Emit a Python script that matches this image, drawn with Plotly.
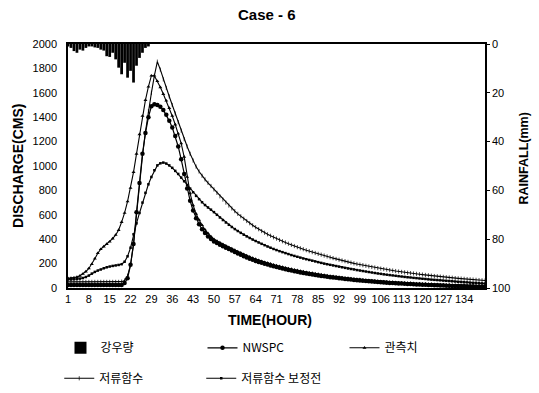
import plotly.graph_objects as go

hours = list(range(1, 142))
x_ticks = list(range(1, 135, 7))

rain_hours = list(range(1, 29))
rain_mm = [1, 1.6, 2.9, 3.6, 2.3, 2.7, 1.6, 1, 1, 1.4, 1.6, 2.3, 2.7, 5, 5.3, 3.6,
           6.3, 9.7, 12.4, 7.7, 13.8, 11, 15.8, 8.9, 5.7, 3.6, 1.6, 1]

nwspc = [25]*19 + [
    40, 80, 190, 360, 620, 860, 1100, 1270, 1400, 1490,
    1506, 1500, 1485, 1460, 1420, 1370, 1315, 1245, 1160, 1055,
    935, 815, 715, 635, 572, 522, 482, 450, 423, 401,
    382, 368, 355, 342, 330, 319, 307, 295, 283, 272,
    261, 250, 240, 231, 222, 214, 206, 199, 192, 185,
    178, 172, 166, 160, 154, 148, 143, 138, 133, 128,
    123, 119, 115, 111, 107, 103, 99, 96, 92, 89,
    86, 83, 80, 77, 74, 71, 69, 66, 64, 62,
    59, 57, 55, 53, 51, 49, 47, 45, 44, 42,
    40, 39, 37, 36, 34, 33, 32, 30, 29, 28,
    27, 26, 25, 24, 23, 22, 21, 20, 19, 18,
    17, 16, 16, 15, 14, 13, 13, 12, 11, 11,
    10, 10]

observed = [
    80, 82, 85, 90, 100, 115, 135, 160, 195, 240,
    285, 318, 340, 360, 380, 405, 435, 475, 540, 615,
    710, 820, 950, 1100, 1260, 1410, 1540, 1650, 1740, 1740,
    1695, 1645, 1590, 1535, 1475, 1410, 1340, 1265, 1185, 1075,
    910, 775, 678, 608, 558, 515, 478, 448, 422,
    400, 386, 372, 359, 347, 335, 323, 311, 299, 288,
    277, 266, 256, 246, 237, 228, 220, 212, 205, 198,
    191, 184, 178, 172, 166, 160, 155, 150, 145, 140,
    135, 130, 126, 122, 118, 114, 110, 106, 103, 99,
    96, 93, 90, 87, 84, 81, 78, 76, 73, 71,
    68, 66, 64, 62, 60, 58, 56, 54, 52, 50,
    49, 47, 46, 44, 43, 41, 40, 39, 37, 36,
    35, 34, 33, 32, 31, 30, 29, 28, 27, 26,
    25, 24, 24, 23, 22, 21, 21, 20, 19, 19,
    18, 18]

storage = [50]*18 + [
    52, 62, 100, 190, 360, 600, 850, 1080, 1280, 1450,
    1600, 1740, 1855, 1790, 1710, 1640, 1570, 1500, 1430, 1360,
    1290, 1220, 1160, 1100, 1045, 995, 955, 920, 890, 862, 836,
    808, 780, 752, 725, 700, 676, 652, 630, 608, 588,
    568, 549, 531, 514, 498, 482, 467, 453, 440, 428,
    416, 405, 394, 383, 373, 363, 353, 344, 335, 326,
    318, 310, 302, 294, 287, 280, 273, 266, 259, 252,
    245, 238, 232, 226, 220, 214, 208, 202, 197, 192,
    187, 182, 177, 172, 168, 163, 159, 155, 151, 147,
    143, 139, 135, 132, 128, 125, 122, 119, 116, 113,
    110, 107, 104, 101, 98, 96, 93, 91, 88, 86,
    84, 81, 79, 77, 75, 73, 71, 69, 67, 65,
    63, 61]

storage_raw = [
    70, 70, 72, 74, 77, 82, 90, 102, 118, 132,
    143, 152, 162, 170, 176, 181, 185, 189, 195, 215,
    260, 330, 440, 530, 615, 700, 780, 850, 910, 965,
    1005, 1022, 1028, 1020, 1005, 985, 960, 935, 905, 875,
    845, 815, 785, 755, 728, 703, 680, 660, 642,
    622, 600, 578, 557, 537, 518, 500, 483, 467, 452,
    437, 423, 410, 397, 385, 373, 362, 351, 340, 330,
    320, 311, 302, 294, 286, 278, 270, 263, 256, 249,
    242, 236, 230, 224, 218, 212, 206, 200, 195, 190,
    185, 180, 175, 170, 165, 160, 156, 152, 147, 143,
    139, 135, 131, 127, 123, 119, 116, 112, 109, 106,
    103, 100, 97, 94, 91, 88, 86, 83, 81, 78,
    76, 74, 71, 69, 67, 65, 63, 61, 59, 57,
    55, 53, 51, 49, 47, 46, 44, 42, 41, 39,
    38, 36]

for s in (nwspc, observed, storage, storage_raw):
    assert len(s) == len(hours), len(s)

FONT = "Arial, 'Liberation Sans', 'Noto Sans CJK KR', sans-serif"
KFONT = "'Noto Sans CJK KR', Arial, sans-serif"

fig = go.Figure()
fig.add_trace(go.Bar(x=rain_hours, y=rain_mm, yaxis="y2", name="강우량",
                     marker=dict(color="black", line=dict(width=0)), legend="legend"))
fig.add_trace(go.Scatter(x=hours, y=nwspc, name="NWSPC", mode="lines+markers",
                         line=dict(color="black", width=1.2),
                         marker=dict(symbol="circle", size=4.5, color="black"), legend="legend"))
fig.add_trace(go.Scatter(x=hours, y=observed, name="관측치", mode="lines+markers",
                         line=dict(color="black", width=1.1),
                         marker=dict(symbol="triangle-up", size=3.5, color="black"), legend="legend"))
fig.add_trace(go.Scatter(x=hours, y=storage, name="저류함수", mode="lines+markers",
                         line=dict(color="black", width=1.1),
                         marker=dict(symbol="line-ns", size=3, color="black",
                                     line=dict(color="black", width=0.7)), legend="legend2"))
fig.add_trace(go.Scatter(x=hours, y=storage_raw, name="저류함수 보정전", mode="lines+markers",
                         line=dict(color="black", width=1.1),
                         marker=dict(symbol="square", size=2.5, color="black"), legend="legend2"))

leg_common = dict(orientation="h", xanchor="left", yanchor="middle",
                  font=dict(family=KFONT, size=12, color="black"),
                  entrywidth=97, entrywidthmode="pixels", bgcolor="rgba(0,0,0,0)",
                  itemwidth=30)

fig.update_layout(
    width=539, height=393,
    margin=dict(l=68, r=54, t=44, b=105, autoexpand=False),
    paper_bgcolor="white", plot_bgcolor="white",
    font=dict(family=FONT, size=11, color="black"),
    title=dict(text="<b>Case - 6</b>", x=0.495, xref="container", y=1 - 15/393,
               yref="container", xanchor="center", yanchor="middle",
               font=dict(family=FONT, size=15, color="black")),
    bargap=0.08,
    showlegend=True,
    legend=dict(x=-0.018, y=-0.245, **leg_common),
    legend2=dict(x=-0.021, y=-0.37, **leg_common),
    xaxis=dict(range=[1, 141], tickmode="array", tickvals=x_ticks,
               ticktext=[str(t) for t in x_ticks], showgrid=False, zeroline=False,
               showline=True, linecolor="black", linewidth=1.5, mirror=True,
               ticks="", tickfont=dict(size=11), automargin=False),
    yaxis=dict(range=[0, 2000], dtick=200, showgrid=False, zeroline=False,
               showline=True, linecolor="black", linewidth=1.5,
               ticks="outside", ticklen=7, tickcolor="rgba(0,0,0,0)",
               tickfont=dict(size=11), automargin=False),
    yaxis2=dict(overlaying="y", side="right", range=[100, 0], dtick=20,
                showgrid=False, zeroline=False, showline=True, linecolor="black",
                linewidth=1.5, ticks="outside", ticklen=3, tickcolor="black",
                tickfont=dict(size=11), automargin=False),
    annotations=[
        dict(text="<b>DISCHARGE(CMS)</b>", textangle=-90, xref="paper", yref="paper",
             x=-0.12, y=0.5, xanchor="center", yanchor="middle", showarrow=False,
             font=dict(family=FONT, size=14)),
        dict(text="<b>RAINFALL(mm)</b>", textangle=-90, xref="paper", yref="paper",
             x=1.093, y=0.53, xanchor="center", yanchor="middle", showarrow=False,
             font=dict(family=FONT, size=12.5)),
        dict(text="<b>TIME(HOUR)</b>", xref="paper", yref="paper",
             x=0.484, y=-0.13, xanchor="center", yanchor="middle", showarrow=False,
             font=dict(family=FONT, size=14)),
    ],
)

fig.write_html("out.html", post_script="document.body.style.margin='0';",
               config={"displayModeBar": False})
